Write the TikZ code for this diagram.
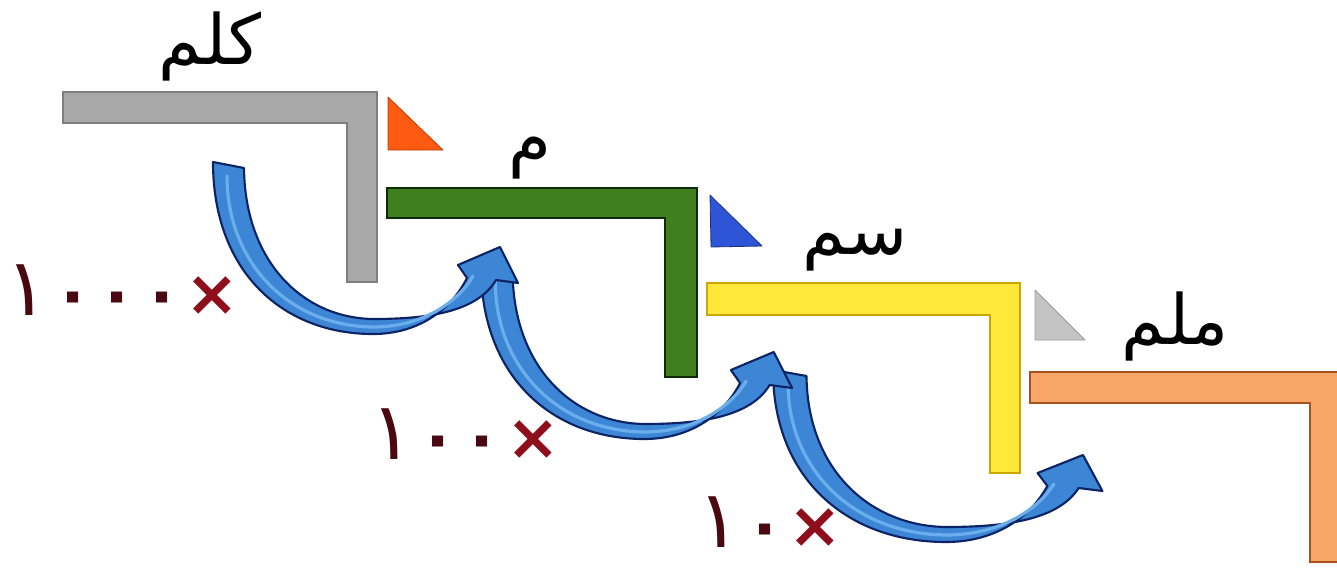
\documentclass[tikz,border=0pt]{standalone}
\usepackage{fontspec}
\newfontfamily\arabicfont[Script=Arabic]{DejaVu Sans}
\newfontfamily\digitfont{DejaVu Sans}
\TeXXeTstate=1
\definecolor{grayfill}{HTML}{A9A9A9}
\definecolor{grayline}{HTML}{7E7E7E}
\definecolor{greenfill}{HTML}{3F7F1E}
\definecolor{greenline}{HTML}{0F2A06}
\definecolor{yellowfill}{HTML}{FFE83A}
\definecolor{yellowline}{HTML}{C9A600}
\definecolor{orangefill}{HTML}{F7A668}
\definecolor{orangeline}{HTML}{A8501E}
\definecolor{triorange}{HTML}{FF5A12}
\definecolor{triblue}{HTML}{2E55D6}
\definecolor{trigray}{HTML}{C4C4C4}
\definecolor{arrowfill}{HTML}{3D86D6}
\definecolor{arrowlight}{HTML}{6AAEEB}
\definecolor{arrowline}{HTML}{0C2466}
\definecolor{numcol}{HTML}{4A0810}
\definecolor{crosscol}{HTML}{8E0E1C}
\newcommand\gapd{\kern4pt}
\newcommand\gapx{\kern3pt}
\newcommand\one{{\mdseries\fontsize{60}{60}\selectfont ١}}
\begin{document}
\begin{tikzpicture}[x=0.75pt,y=-0.75pt,
  barshape/.style={line width=1.6pt,line join=miter},
  trishape/.style={line width=0.6pt,line join=round},
  word/.style={inner sep=0pt,font=\arabicfont\fontsize{52}{56}\selectfont},
  numlabel/.style={inner sep=0pt,text=numcol,font=\digitfont\bfseries\fontsize{48}{52}\selectfont},
  arrowbody/.style={fill=arrowfill,draw=arrowline,line width=1.6pt,line join=round},
  bluearrow/.pic={
    \path[arrowbody]
      (0,0) .. controls (0,110) and (70,172) .. (160,172)
      .. controls (205,172) and (238,148) .. (254,116)
      -- (245,103) -- (287,85) -- (305,121) -- (283,118)
      .. controls (264,150) and (215,157) .. (160,157)
      .. controls (90,156) and (32,100) .. (31,6) -- cycle;
    \draw[arrowlight,line width=2.4pt,line cap=round]
      (14,14) .. controls (14,100) and (75,164) .. (160,165)
      .. controls (210,165) and (245,140) .. (260,114);
  }]
\useasboundingbox (0,0) rectangle (1337,568);

% L-shaped bars
\path[barshape,fill=grayfill,draw=grayline] (63,92) -- (377,92) -- (377,282) -- (347,282) -- (347,123) -- (63,123) -- cycle;
\path[barshape,fill=greenfill,draw=greenline] (387,188) -- (697,188) -- (697,377) -- (665,377) -- (665,218) -- (387,218) -- cycle;
\path[barshape,fill=yellowfill,draw=yellowline] (707,283) -- (1020,283) -- (1020,473) -- (990,473) -- (990,315) -- (707,315) -- cycle;
\path[barshape,fill=orangefill,draw=orangeline] (1030,372) -- (1345,372) -- (1345,562) -- (1310,562) -- (1310,403) -- (1030,403) -- cycle;

% small triangles
\path[trishape,fill=triorange,draw=triorange!70!black] (388,97) -- (388,150) -- (443,150) -- cycle;
\path[trishape,fill=triblue,draw=triblue!60!black] (710,195) -- (711,247) -- (762,246) -- cycle;
\path[trishape,fill=trigray,draw=trigray!80!black] (1035,290) -- (1035,340) -- (1085,340) -- cycle;

% curved arrows (drawn back to front)
\pic[xshift=773*0.75pt,yshift=-370*0.75pt,xscale=1.08] {bluearrow};
\pic[xshift=481*0.75pt,yshift=-267*0.75pt,xscale=1.02] {bluearrow};
\pic[xshift=213*0.75pt,yshift=-162*0.75pt] {bluearrow};

% unit names
\node[word] (km) at (210,46) {\beginR كلم\endR};
\node[word] (m) at (530,158) {\beginR م\endR};
\node[word] (cm) at (855,250) {\beginR سم\endR};
\node[word] (mm) at (1175,326) {\beginR ملم\endR};

% factors
\node[numlabel] (f1000) at (122,290) {\one\gapd٠\gapd٠\gapd٠\gapx{\color{crosscol}×}};
\node[numlabel] (f100) at (465,434) {\one\gapd٠\gapd٠\gapx{\color{crosscol}×}};
\node[numlabel] (f10) at (770,522) {\one\gapd٠\gapx{\color{crosscol}×}};
\end{tikzpicture}
\end{document}
